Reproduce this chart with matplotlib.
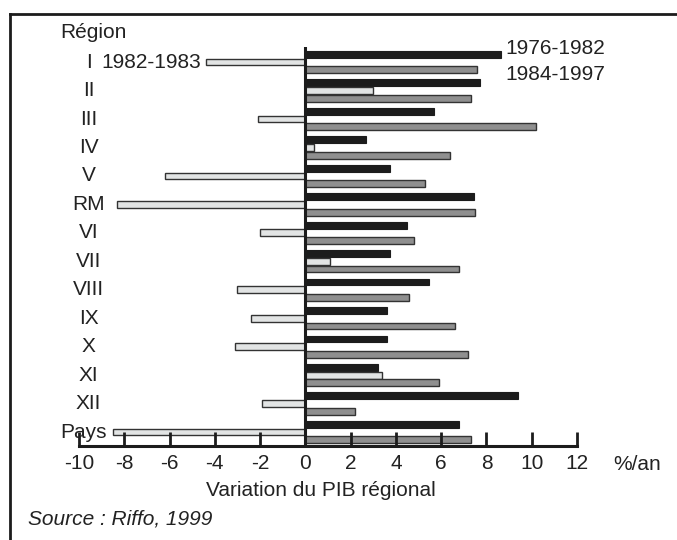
import numpy as np
import matplotlib
matplotlib.use("Agg")
import matplotlib.pyplot as plt

plt.rcParams['font.family'] = ['Liberation Sans', 'DejaVu Sans']

regions = ['I', 'II', 'III', 'IV', 'V', 'RM', 'VI', 'VII', 'VIII', 'IX', 'X', 'XI', 'XII', 'Pays']
p_7682 = [8.65, 7.7, 5.7, 2.7, 3.75, 7.45, 4.5, 3.75, 5.45, 3.6, 3.6, 3.2, 9.4, 6.8]
p_8283 = [-4.4, 3.0, -2.1, 0.4, -6.2, -8.3, -2.0, 1.1, -3.0, -2.4, -3.1, 3.4, -1.9, -8.5]
p_8497 = [7.6, 7.3, 10.2, 6.4, 5.3, 7.5, 4.8, 6.8, 4.6, 6.6, 7.2, 5.9, 2.2, 7.3]
xticks = list(range(-10, 13, 2))

W, H = 677, 540
fig = plt.figure(figsize=(W / 100, H / 100), dpi=100)

# axes placed in pixel terms: x -10..12 -> 79..577 px, y 446..47 px from top
x0, x1 = 79, 577
ytop, ybot = 47, 446
ax = fig.add_axes([x0 / W, 1 - ybot / H, (x1 - x0) / W, (ybot - ytop) / H])

n = len(regions)
ypos = np.arange(n)[::-1].astype(float)
off = 0.272
h = 0.24

ax.barh(ypos + off, p_7682, height=h, color='#1c1c1c', edgecolor='#1c1c1c', lw=0.8)
ax.barh(ypos, p_8283, height=h, color='#e2e4e4', edgecolor='#333333', lw=1.0)
ax.barh(ypos - off, p_8497, height=h, color='#8f8f8f', edgecolor='#333333', lw=1.0)

ax.axvline(0, color='#1c1c1c', lw=2.2, zorder=5)

ax.set_xlim(-10, 12)
ax.set_ylim(-0.49, 13.53)
ax.set_yticks([])
ax.set_xticks(xticks)
ax.set_xticklabels([str(t) for t in xticks])
fs = 15
tc = '#222222'
ax.tick_params(axis='x', direction='in', length=10, width=2, pad=6,
               labelsize=fs, color='#1c1c1c', labelcolor=tc)
for s in ['top', 'right', 'left']:
    ax.spines[s].set_visible(False)
ax.spines['bottom'].set_linewidth(2.2)
ax.spines['bottom'].set_color('#1c1c1c')
ax.patch.set_alpha(0)

for y, r in zip(ypos, regions):
    xl = -9.58 if r != 'Pays' else -9.8
    ax.text(xl, y, r, ha='center', va='center', fontsize=fs, color=tc, clip_on=False)

# series labels
ax.text(p_8283[0] - 0.2, ypos[0], '1982-1983', ha='right', va='center', fontsize=fs, color=tc)
fig.text(505 / W, 1 - 48 / H, '1976-1982', ha='left', va='center', fontsize=fs, color=tc)
fig.text(505 / W, 1 - 75 / H, '1984-1997', ha='left', va='center', fontsize=fs, color=tc)

fig.text(60 / W, 1 - 33 / H, 'Région', ha='left', va='center', fontsize=fs, color=tc)
fig.text(613 / W, 1 - 465 / H, '%/an', ha='left', va='center', fontsize=fs, color=tc)
fig.text(321 / W, 1 - 491 / H, 'Variation du PIB régional', ha='center', va='center',
         fontsize=fs, color=tc)
fig.text(28 / W, 1 - 519 / H, 'Source : Riffo, 1999', ha='left', va='center',
         fontsize=fs, style='italic', color=tc)

# frame: top and left lines only
fig.add_artist(plt.Line2D([10 / W, 1], [1 - 14 / H, 1 - 14 / H], color='#1c1c1c', lw=2))
fig.add_artist(plt.Line2D([10 / W, 10 / W], [0, 1 - 14 / H], color='#1c1c1c', lw=2))

fig.savefig('out.png', dpi=100)
